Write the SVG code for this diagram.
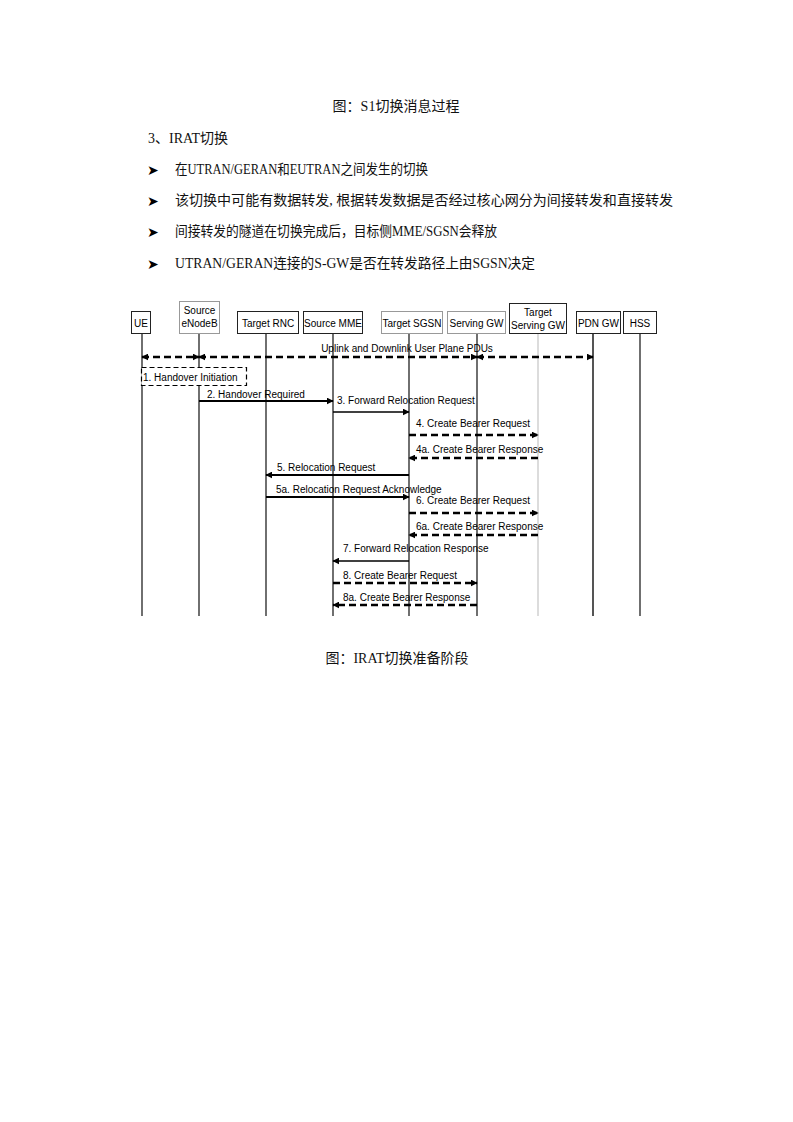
<svg xmlns="http://www.w3.org/2000/svg" width="793" height="1122" viewBox="0 0 793 1122">
<defs>
<style>
.body{font-family:"Liberation Serif","Noto Sans CJK SC",serif;font-size:14px;fill:#111}
.bul{font-family:"DejaVu Sans",sans-serif;font-size:14px;font-weight:bold;fill:#000}
.lbl{font-family:"Liberation Sans",Arial,sans-serif;font-size:10px;fill:#000}
.hdr{font-family:"Liberation Sans",Arial,sans-serif;font-size:10px;fill:#000;text-anchor:middle}
.box{fill:#fff;stroke:#222;stroke-width:1}
.boxl{fill:#fff;stroke:#999;stroke-width:1}
.life{stroke:#222;stroke-width:1.3;fill:none}
.solid{stroke:#000;stroke-width:2.2;fill:none}
.thin{stroke:#000;stroke-width:1.4;fill:none}
.dash{stroke:#000;stroke-width:2.3;fill:none;stroke-dasharray:7 4}
</style>
<marker id="ah" viewBox="0 0 10 10" refX="9" refY="5" markerWidth="7" markerHeight="7" markerUnits="userSpaceOnUse" orient="auto-start-reverse">
<path d="M0,0 L10,5 L0,10 z" fill="#000"/>
</marker>
</defs>
<rect width="793" height="1122" fill="#fff"/>

<g id="text-top">
<text class="body" x="396" y="111" text-anchor="middle">图：S1切换消息过程</text>
<text class="body" x="148" y="143">3、IRAT切换</text>
<text class="bul" x="147" y="175">➤</text>
<text class="body" x="175" y="174" textLength="253" lengthAdjust="spacingAndGlyphs">在UTRAN/GERAN和EUTRAN之间发生的切换</text>
<text class="bul" x="147" y="206">➤</text>
<text class="body" x="175" y="205" textLength="498" lengthAdjust="spacingAndGlyphs">该切换中可能有数据转发, 根据转发数据是否经过核心网分为间接转发和直接转发</text>
<text class="bul" x="147" y="237">➤</text>
<text class="body" x="175" y="236" textLength="322" lengthAdjust="spacingAndGlyphs">间接转发的隧道在切换完成后，目标侧MME/SGSN会释放</text>
<text class="bul" x="147" y="269">➤</text>
<text class="body" x="175" y="268" textLength="360" lengthAdjust="spacingAndGlyphs">UTRAN/GERAN连接的S-GW是否在转发路径上由SGSN决定</text>
</g>

<g id="lifelines">
<line class="life" x1="142" y1="333" x2="142" y2="616"/>
<line class="life" x1="199" y1="333" x2="199" y2="616"/>
<line class="life" x1="266" y1="333" x2="266" y2="616"/>
<line class="life" x1="333" y1="333" x2="333" y2="616"/>
<line class="life" x1="409" y1="333" x2="409" y2="616"/>
<line class="life" x1="477" y1="333" x2="477" y2="616"/>
<line x1="538" y1="334" x2="538" y2="616" stroke="#d0d0d0" stroke-width="1.5"/>
<line x1="593" y1="333" x2="593" y2="616" stroke="#555" stroke-width="2"/>
<line class="life" x1="640" y1="333" x2="640" y2="616"/>
</g>

<g id="node-ue"><rect class="box" x="131.5" y="311.5" width="19" height="22"/><text class="hdr" x="141" y="327">UE</text></g>
<g id="node-source-enodeb"><rect class="boxl" x="179.5" y="301.5" width="40" height="32"/><text class="hdr" x="199.5" y="314">Source</text><text class="hdr" x="199.5" y="327">eNodeB</text></g>
<g id="node-target-rnc"><rect class="box" x="237.5" y="311.5" width="61" height="22"/><text class="hdr" x="268" y="327">Target RNC</text></g>
<g id="node-source-mme"><rect class="box" x="303.5" y="311.5" width="59" height="22"/><text class="hdr" x="333" y="327">Source MME</text></g>
<g id="node-target-sgsn"><rect class="boxl" x="381.5" y="311.5" width="61" height="22"/><text class="hdr" x="412" y="327">Target SGSN</text></g>
<g id="node-serving-gw"><rect class="boxl" x="447.5" y="311.5" width="58" height="22"/><text class="hdr" x="476.5" y="327">Serving GW</text></g>
<g id="node-target-serving-gw"><rect class="box" x="509.5" y="303.5" width="57" height="30"/><text class="hdr" x="538" y="316">Target</text><text class="hdr" x="538" y="329">Serving GW</text></g>
<g id="node-pdn-gw"><rect class="box" x="576.5" y="311.5" width="44" height="22"/><text class="hdr" x="598.5" y="327">PDN GW</text></g>
<g id="node-hss"><rect class="box" x="623.5" y="311.5" width="33" height="22"/><text class="hdr" x="640" y="327">HSS</text></g>

<g id="node-handover-initiation">
<rect x="141.5" y="367.5" width="105" height="18" fill="#fff" stroke="#000" stroke-width="1.2" stroke-dasharray="5 3"/>
<text class="lbl" x="143" y="381">1. Handover Initiation</text>
</g>

<g id="connectors">
<line class="dash" x1="142" y1="357" x2="199" y2="357" marker-start="url(#ah)" marker-end="url(#ah)"/>
<line class="dash" x1="199" y1="357" x2="477" y2="357" marker-start="url(#ah)" marker-end="url(#ah)"/>
<line class="dash" x1="477" y1="357" x2="593" y2="357" marker-start="url(#ah)" marker-end="url(#ah)"/>
<line class="solid" x1="199" y1="401" x2="333" y2="401" marker-end="url(#ah)"/>
<line class="thin" x1="333" y1="412" x2="409" y2="412" marker-end="url(#ah)"/>
<line class="dash" x1="409" y1="435" x2="538" y2="435" marker-end="url(#ah)"/>
<line class="dash" x1="538" y1="458" x2="409" y2="458" marker-end="url(#ah)"/>
<line class="solid" x1="409" y1="475" x2="266" y2="475" marker-end="url(#ah)"/>
<line class="solid" x1="266" y1="497" x2="409" y2="497" marker-end="url(#ah)"/>
<line class="dash" x1="409" y1="513" x2="538" y2="513" marker-end="url(#ah)"/>
<line class="dash" x1="538" y1="535" x2="409" y2="535" marker-end="url(#ah)"/>
<line class="thin" x1="409" y1="561" x2="333" y2="561" marker-end="url(#ah)"/>
<line class="dash" x1="333" y1="583" x2="477" y2="583" marker-end="url(#ah)"/>
<line class="dash" x1="477" y1="605" x2="333" y2="605" marker-end="url(#ah)"/>
</g>

<g id="connector-labels">
<text class="lbl" x="407" y="352" text-anchor="middle">Uplink and Downlink User Plane PDUs</text>
<text class="lbl" x="207" y="398">2. Handover Required</text>
<text class="lbl" x="337" y="404">3. Forward Relocation Request</text>
<text class="lbl" x="416" y="427">4. Create Bearer Request</text>
<text class="lbl" x="416" y="453">4a. Create Bearer Response</text>
<text class="lbl" x="277" y="471">5. Relocation Request</text>
<text class="lbl" x="276" y="493">5a. Relocation Request Acknowledge</text>
<text class="lbl" x="416" y="504">6. Create Bearer Request</text>
<text class="lbl" x="416" y="530">6a. Create Bearer Response</text>
<text class="lbl" x="343" y="552">7. Forward Relocation Response</text>
<text class="lbl" x="343" y="579">8. Create Bearer Request</text>
<text class="lbl" x="343" y="601">8a. Create Bearer Response</text>
</g>

<g id="caption">
<text class="body" x="397" y="663" text-anchor="middle">图：IRAT切换准备阶段</text>
</g>
</svg>
